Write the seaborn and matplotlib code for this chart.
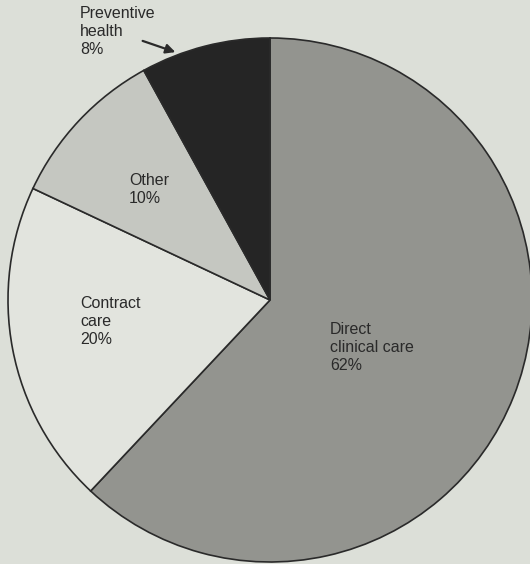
import matplotlib
matplotlib.use('Agg')
import matplotlib.pyplot as plt
import seaborn as sns

# shares of spending, clockwise from 12 o'clock
categories = ['Direct\nclinical care', 'Contract\ncare', 'Other', 'Preventive\nhealth']
shares = [62, 20, 10, 8]
slice_colors = ['#93948f', '#e2e4de', '#c5c7c1', '#252525']

sns.set_style("white")
plt.rcParams['font.family'] = ['Liberation Sans', 'DejaVu Sans']

fig = plt.figure(figsize=(5.30, 5.64), dpi=100)
fig.patch.set_facecolor('#dcdfd8')
ax = fig.add_axes([0, 0, 1, 1])
ax.set_facecolor('#dcdfd8')

# pixel coordinates: y counted from the bottom
ax.pie(shares, colors=slice_colors, startangle=90, counterclock=False,
       center=(270, 264), radius=262,
       wedgeprops=dict(edgecolor='#2a2a2a', linewidth=1.2))
ax.set_xlim(0, 530)
ax.set_ylim(0, 564)
ax.set_aspect('equal')
ax.axis('off')

txt = dict(fontsize=11.5, color='#2a2a2a', linespacing=1.27, va='top', ha='left')
ax.text(330, 564 - 322, f"{categories[0]}\n{shares[0]}%", **txt)
ax.text(80, 564 - 296, f"{categories[1]}\n{shares[1]}%", **txt)
ax.text(129, 564 - 173, f"{categories[2]}\n{shares[2]}%", **txt)
ax.text(80, 564 - 6, f"{categories[3]}\n{shares[3]}%", **txt)

ax.annotate('', xy=(178, 564 - 53), xytext=(140, 564 - 40),
            arrowprops=dict(arrowstyle='-|>', color='#2a2a2a', lw=1.6,
                            mutation_scale=14))

fig.savefig('out.png', dpi=100, facecolor=fig.get_facecolor())
